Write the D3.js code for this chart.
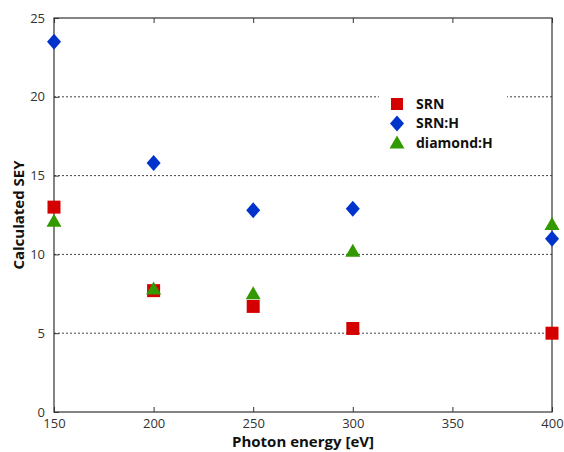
<!DOCTYPE html>
<head>
    <script src="https://d3js.org/d3.v7.min.js"></script>
    <style>
        body { margin: 0; background: #fff; }
        text { font-family: "Open Sans", sans-serif; }
    </style>
</head>
<body>
    <svg></svg>
</body>

<script>
    // Data
    var energies = [150, 200, 250, 300, 400];
    var srn = [13.0, 7.7, 6.7, 5.3, 5.0];
    var srnH = [23.5, 15.8, 12.8, 12.9, 11.0];
    var diamondH = [12.1, 7.8, 7.5, 10.2, 11.9];
    var xTicks = [150, 200, 250, 300, 350, 400];
    var yTicks = [0, 5, 10, 15, 20, 25];

    var series = [
        { name: "SRN", values: srn, color: "#d40000", symbol: "square" },
        { name: "SRN:H", values: srnH, color: "#0033cc", symbol: "diamond" },
        { name: "diamond:H", values: diamondH, color: "#339900", symbol: "triangle" }
    ];

    // Variables
    var width = 564, height = 452;
    var margin = { left: 54, right: 12, top: 18, bottom: 40 };

    var svg = d3.select('svg')
        .attr('width', width)
        .attr('height', height);

    var x = d3.scaleLinear().domain([150, 400]).range([margin.left, width - margin.right]);
    var y = d3.scaleLinear().domain([0, 25]).range([height - margin.bottom, margin.top]);

    // Marker shapes
    function marker(sym) {
        if (sym === "square") return "M-6.5,-6.5h13v13h-13z";
        if (sym === "diamond") return "M0,-8L7,0L0,8L-7,0z";
        return "M0,-7.5L7.5,5.5L-7.5,5.5z";
    }

    // Grid lines
    svg.append('g').selectAll('line')
        .data(yTicks.filter(function (d) { return d > 0 && d < 25; }))
        .enter().append('line')
        .attr('x1', x(150)).attr('x2', x(400))
        .attr('y1', function (d) { return y(d); })
        .attr('y2', function (d) { return y(d); })
        .style('stroke', '#444')
        .style('stroke-width', 1)
        .style('stroke-dasharray', '2,2');

    // Box
    svg.append('rect')
        .attr('x', x(150)).attr('y', y(25))
        .attr('width', x(400) - x(150)).attr('height', y(0) - y(25))
        .style('fill', 'none')
        .style('stroke', '#333')
        .style('stroke-width', 1.2);

    // Axes
    var xAxis = svg.append('g')
        .attr('transform', 'translate(0,' + y(0) + ')')
        .call(d3.axisBottom(x).tickValues(xTicks).tickSizeInner(-5).tickSizeOuter(0).tickPadding(7));
    var xTop = svg.append('g')
        .attr('transform', 'translate(0,' + y(25) + ')')
        .call(d3.axisTop(x).tickValues(xTicks).tickSizeInner(-5).tickSizeOuter(0).tickFormat(''));
    var yAxis = svg.append('g')
        .attr('transform', 'translate(' + x(150) + ',0)')
        .call(d3.axisLeft(y).tickValues(yTicks).tickSizeInner(-5).tickSizeOuter(0).tickPadding(9));

    [xAxis, xTop, yAxis].forEach(function (a) {
        a.select('.domain').remove();
        a.selectAll('line').style('stroke', '#333');
        a.selectAll('text')
            .style('font-family', '"Open Sans", sans-serif')
            .style('font-size', '13px')
            .style('fill', '#333');
    });

    // Axis titles
    svg.append('text')
        .attr('x', (x(150) + x(400)) / 2)
        .attr('y', 447)
        .attr('text-anchor', 'middle')
        .style('font-size', '15px')
        .style('font-weight', 'bold')
        .style('fill', '#111')
        .text('Photon energy [eV]');

    svg.append('text')
        .attr('transform', 'translate(24,' + ((y(0) + y(25)) / 2) + ') rotate(-90)')
        .attr('text-anchor', 'middle')
        .style('font-size', '15px')
        .style('font-weight', 'bold')
        .style('fill', '#111')
        .text('Calculated SEY');

    // Legend background
    var legend = svg.append('g');
    legend.append('rect')
        .attr('x', 379).attr('y', 88)
        .attr('width', 128).attr('height', 76)
        .style('fill', '#fff');

    // Points
    series.forEach(function (s) {
        svg.append('g').selectAll('path')
            .data(s.values)
            .enter().append('path')
            .attr('transform', function (d, i) { return 'translate(' + x(energies[i]) + ',' + y(d) + ')'; })
            .attr('d', marker(s.symbol))
            .style('fill', s.color);
    });

    // Legend entries
    var entries = legend.selectAll('g.entry')
        .data(series)
        .enter().append('g')
        .attr('transform', function (d, i) { return 'translate(397,' + (104 + i * 19.5) + ')'; });
    entries.append('path')
        .attr('d', function (d) { return d.symbol === "square" ? "M-6,-6h12v12h-12z" : marker(d.symbol); })
        .style('fill', function (d) { return d.color; });
    entries.append('text')
        .attr('x', 19)
        .attr('dy', '0.35em')
        .style('font-size', '14px')
        .style('font-weight', 'bold')
        .style('fill', '#111')
        .text(function (d) { return d.name; });
</script>
